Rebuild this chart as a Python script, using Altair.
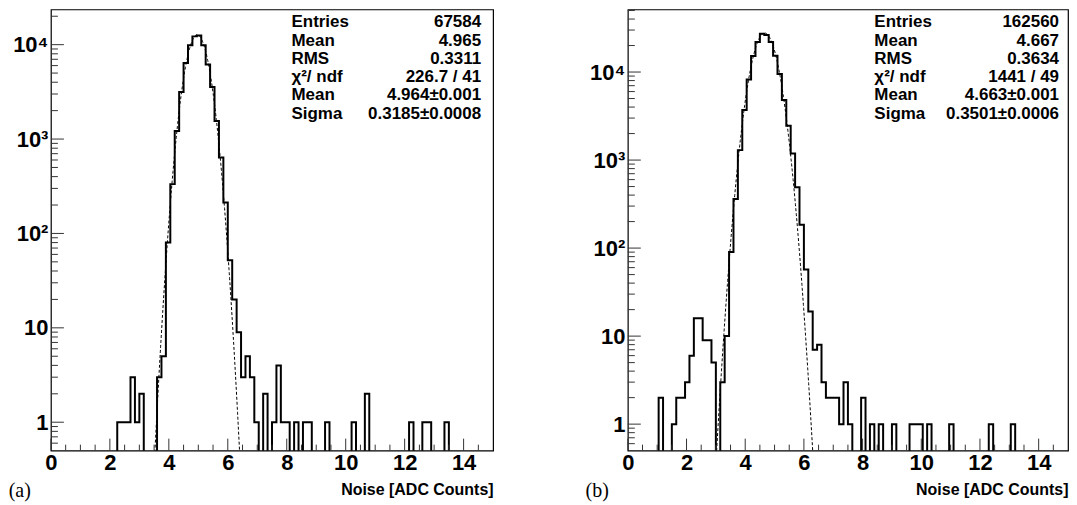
import altair as alt
import numpy as np
import pandas as pd

# ---------------- data ----------------
BIN_WIDTH = 0.15
X_MAX = 15.0

# 100 bins of width 0.15 between 0 and 15
counts_a = [0] * 15 + [1, 1, 1, 3, 1, 2, 0, 0, 0, 3, 5, 80, 333, 1216, 3160, 6400, 9840,
                       12240, 12540, 9840, 6150, 3570, 1550, 636, 213, 52, 20, 9, 3, 5, 3,
                       1, 0, 2, 0, 1, 4, 1, 1, 0, 1, 0, 1, 1, 0, 0, 0, 1, 0, 0, 0, 0, 0,
                       1, 0, 0, 2, 0, 0, 0, 0, 0, 0, 0, 0, 0, 1, 0, 0, 1, 1, 0, 0, 0, 1] + [0] * 10
counts_b = [0] * 7 + [2, 0, 0, 1, 2, 2, 3, 6, 16, 16, 9, 9, 5, 0, 3, 10, 90, 361, 1297, 3715,
                      8250, 15170, 22000, 27150, 26400, 22000, 15300, 9500, 4800, 2450, 1190,
                      490, 184, 57, 19, 7, 8, 3, 2, 2, 2, 1, 3, 1, 0, 0, 2, 0, 1, 0, 1, 0,
                      0, 1, 0, 0, 0, 1, 1, 1, 0, 1, 0, 0, 0, 0, 1, 0, 0, 0, 0, 0, 0, 0, 0,
                      1, 0, 0, 0, 0, 1] + [0] * 12

stats_names = ["Entries", "Mean", "RMS", "\u03c7\u00b2/ ndf", "Mean", "Sigma"]
stats_a = ["67584", "4.965", "0.3311", "226.7 / 41", "4.964\u00b10.001", "0.3185\u00b10.0008"]
stats_b = ["162560", "4.667", "0.3634", "1441 / 49", "4.663\u00b10.001", "0.3501\u00b10.0006"]

# Gaussian fit parameters shown in the stat boxes
fit_a = {"entries": 67584, "mean": 4.964, "sigma": 0.3185}
fit_b = {"entries": 162560, "mean": 4.663, "sigma": 0.3501}

y_top_a = 23600
y_top_b = 51400

x_major = [0, 2, 4, 6, 8, 10, 12, 14]
x_minor = [v / 2 for v in range(1, 30) if v % 4 != 0]
y_major = [1, 10, 100, 1000, 10000]
y_minor_all = [m * 10.0 ** d for d in range(-1, 5) for m in range(2, 10)]

H = 442
FONT = "Liberation Sans"

AX_X = alt.Axis(values=x_major, title="Noise [ADC Counts]", titleAnchor="end",
                titleFont=FONT, titleFontWeight="bold", titleFontSize=16, titleColor="black",
                titlePadding=8, labelPadding=2, labelFlush=False, labelOverlap=False,
                format="d", grid=False, ticks=False, domain=False)
AX_Y = alt.Axis(values=y_major, title="", labelPadding=3, labelOverlap=False,
                grid=False, ticks=False, domain=False,
                labelExpr="datum.value >= 10000 ? '10\u2074' : datum.value >= 1000 ? '10\u00b3' : "
                          "datum.value >= 100 ? '10\u00b2' : datum.value >= 10 ? '10' : '1'")


def panel(counts, stats_vals, fit, ytop, tag, W, name_x, val_dx):
    edges = [round(i * BIN_WIDTH, 4) for i in range(len(counts))] + [X_MAX]
    hist_df = pd.DataFrame({"x": edges, "n": counts + [counts[-1]]})

    amp = fit["entries"] * BIN_WIDTH / (np.sqrt(2 * np.pi) * fit["sigma"])
    fx = np.arange(fit["mean"] - 5 * fit["sigma"], fit["mean"] + 5 * fit["sigma"], 0.01)
    fit_df = pd.DataFrame({"x": fx, "y": amp * np.exp(-0.5 * ((fx - fit["mean"]) / fit["sigma"]) ** 2)})

    xs = alt.Scale(domain=[0, X_MAX], nice=False, zero=False)
    ys = alt.Scale(type="log", domain=[0.5, ytop], nice=False)

    hist = alt.Chart(hist_df).transform_calculate(
        y="max(datum.n, 0.05)"
    ).mark_line(interpolate="step-after", color="black", strokeWidth=2,
                strokeJoin="miter", clip=True).encode(
        x=alt.X("x:Q", scale=xs, axis=AX_X),
        y=alt.Y("y:Q", scale=ys, axis=AX_Y),
    )

    fitl = alt.Chart(fit_df).mark_line(color="black", strokeWidth=1, strokeDash=[3, 2],
                                       clip=True).encode(
        x=alt.X("x:Q", axis=AX_X), y=alt.Y("y:Q", axis=AX_Y))

    ymin = [v for v in y_minor_all if 0.5 < v < ytop]
    ymaj_t = alt.Chart(pd.DataFrame({"y": y_major})).mark_rule(color="#333", strokeWidth=1).encode(
        y=alt.Y("y:Q", axis=AX_Y), x=alt.value(0), x2=alt.value(13))
    ymin_t = alt.Chart(pd.DataFrame({"y": ymin})).mark_rule(color="#333", strokeWidth=1).encode(
        y=alt.Y("y:Q", axis=AX_Y), x=alt.value(0), x2=alt.value(7))
    xmaj_t = alt.Chart(pd.DataFrame({"x": x_major})).mark_rule(color="#333", strokeWidth=1).encode(
        x=alt.X("x:Q", axis=AX_X), y=alt.value(H), y2=alt.value(H - 12))
    xmin_t = alt.Chart(pd.DataFrame({"x": x_minor})).mark_rule(color="#333", strokeWidth=1).encode(
        x=alt.X("x:Q", axis=AX_X), y=alt.value(H), y2=alt.value(H - 6))

    one = pd.DataFrame({"k": [0]})
    names = alt.Chart(one).mark_text(align="left", baseline="top", font=FONT, fontWeight="bold",
                                     fontSize=17, lineHeight=18.3, color="black").encode(
        x=alt.value(name_x), y=alt.value(5), text=alt.value(stats_names))
    vals = alt.Chart(one).mark_text(align="right", baseline="top", font=FONT, fontWeight="bold",
                                    fontSize=17, lineHeight=18.3, color="black").encode(
        x=alt.value(W - val_dx), y=alt.value(5), text=alt.value(stats_vals))

    return alt.layer(hist, fitl, ymaj_t, ymin_t, xmaj_t, xmin_t, names, vals).properties(
        width=W, height=H,
        title=alt.TitleParams(tag, orient="bottom", anchor="start", frame="bounds",
                              font="Liberation Serif", fontSize=20, fontWeight="normal",
                              color="black", dx=-4, dy=-17, offset=0))


chart = alt.hconcat(
    panel(counts_a, stats_a, fit_a, y_top_a, "(a)", 443, 241, 12),
    panel(counts_b, stats_b, fit_b, y_top_b, "(b)", 441, 247, 9),
    spacing=91,
).properties(
    padding={"left": 0, "top": 0, "right": 0, "bottom": 0},
    background="white",
).configure_view(
    stroke="black", strokeWidth=1.2
).configure_axis(
    labelFont=FONT, labelFontWeight="bold", labelFontSize=22, labelColor="black"
)

chart.save("out.html", embed_options={"renderer": "svg", "actions": False})
